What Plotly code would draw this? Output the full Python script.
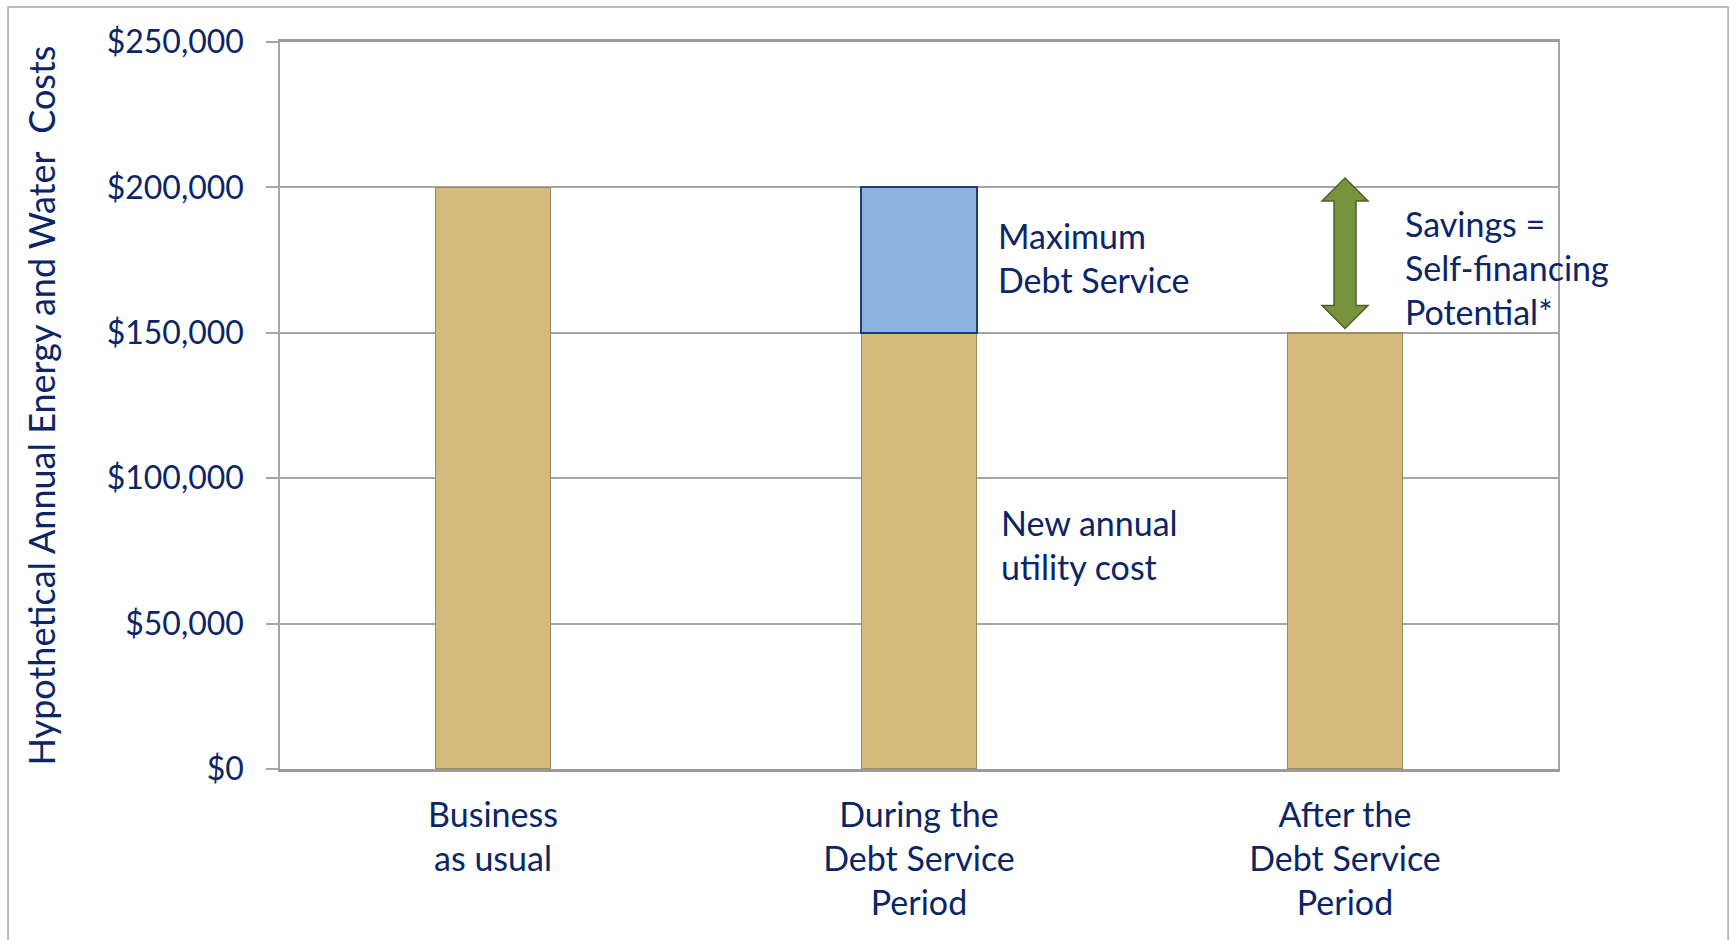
import plotly.graph_objects as go

categories = ["Business<br>as usual", "During the<br>Debt Service<br>Period", "After the<br>Debt Service<br>Period"]
utility_cost = [200000, 150000, 150000]
debt_service = [0, 50000, 0]
tick_values = [0, 50000, 100000, 150000, 200000, 250000]
tick_labels = ["$0", "$50,000", "$100,000", "$150,000", "$200,000", "$250,000"]
savings_low = 150000
savings_high = 200000

NAVY = "#0B2566"
GRID = "#A6A6A6"
FONT = "Lato"

fig = go.Figure()
fig.add_trace(go.Bar(
    x=categories, y=utility_cost, width=0.27,
    marker=dict(color="#D4BA7D", line=dict(color="#9C8A58", width=1.5)),
    hoverinfo="y", name="New annual utility cost",
))
fig.add_trace(go.Bar(
    x=categories, y=debt_service, width=0.27,
    marker=dict(color="#8EB3E2",
                line=dict(color="#1F3F6E", width=[2 if v > 0 else 0 for v in debt_service])),
    hoverinfo="y", name="Maximum Debt Service",
))

# double-headed savings arrow (x in pixels around the category, y in data)
pad_top, pad_bot, head_h = 3200, 1500, 7900
top = savings_high + pad_top
bot = savings_low + pad_bot
hw, sw = 23, 11
path = (f"M 0,{top} L {hw},{top-head_h} L {sw},{top-head_h} L {sw},{bot+head_h} "
        f"L {hw},{bot+head_h} L 0,{bot} L {-hw},{bot+head_h} L {-sw},{bot+head_h} "
        f"L {-sw},{top-head_h} L {-hw},{top-head_h} Z")
fig.add_shape(type="path", xref="x", yref="y", xsizemode="pixel", xanchor=2,
              path=path, fillcolor="#77933C", line=dict(color="#4F6228", width=1.5))

# outer chart border
fig.add_shape(type="rect", xref="paper", yref="paper",
              x0=-0.2128, x1=1.1331, y0=-0.30, y1=1.0482,
              line=dict(color=GRID, width=1.5), layer="below")

ann_font = dict(family=FONT, size=34, color=NAVY)
fig.add_annotation(x=1.18, y=savings_low + debt_service[1] / 2, xref="x", yref="y",
                   yshift=3,
                   text="Maximum<br>Debt Service", showarrow=False,
                   xanchor="left", yanchor="middle", align="left", font=ann_font)
fig.add_annotation(x=1.187, y=utility_cost[1] / 2, xref="x", yref="y",
                   yshift=6,
                   text="New annual<br>utility cost", showarrow=False,
                   xanchor="left", yanchor="middle", align="left", font=ann_font)
fig.add_annotation(x=2.136, y=(savings_low + savings_high) / 2, xref="x", yref="y",
                   yshift=-7,
                   text="Savings =<br>Self-financing<br>Potential*", showarrow=False,
                   xanchor="left", yanchor="middle", align="left", font=ann_font)

fig.update_layout(
    width=1735, height=940,
    margin=dict(l=280, r=177, t=42, b=171),
    barmode="stack", showlegend=False,
    plot_bgcolor="white", paper_bgcolor="white",
    font=dict(family=FONT, size=32, color=NAVY),
)
fig.update_yaxes(
    range=[0, 250000], tickvals=tick_values, ticktext=tick_labels,
    showgrid=True, gridcolor=GRID, gridwidth=1.5,
    showline=True, linecolor=GRID, linewidth=1.5, mirror=True,
    ticks="outside", ticklen=12, tickcolor=GRID, tickwidth=1.5,
    ticklabelstandoff=16, zeroline=False,
    title=dict(text="Hypothetical Annual Energy and Water  Costs",
               font=dict(family=FONT, size=36, color=NAVY), standoff=40),
    tickfont=dict(family=FONT, size=32, color=NAVY),
    automargin=False,
)
fig.update_xaxes(
    range=[-0.5, 2.5],
    showgrid=False, showline=True, linecolor="#9A9A9A", linewidth=2.5, mirror=True,
    ticks="", ticklabelstandoff=14,
    tickfont=dict(family=FONT, size=34, color=NAVY),
    automargin=False,
)

fig.write_html("out.html", config={"displayModeBar": False},
               post_script="document.body.style.margin='0';document.body.style.overflow='hidden';")
